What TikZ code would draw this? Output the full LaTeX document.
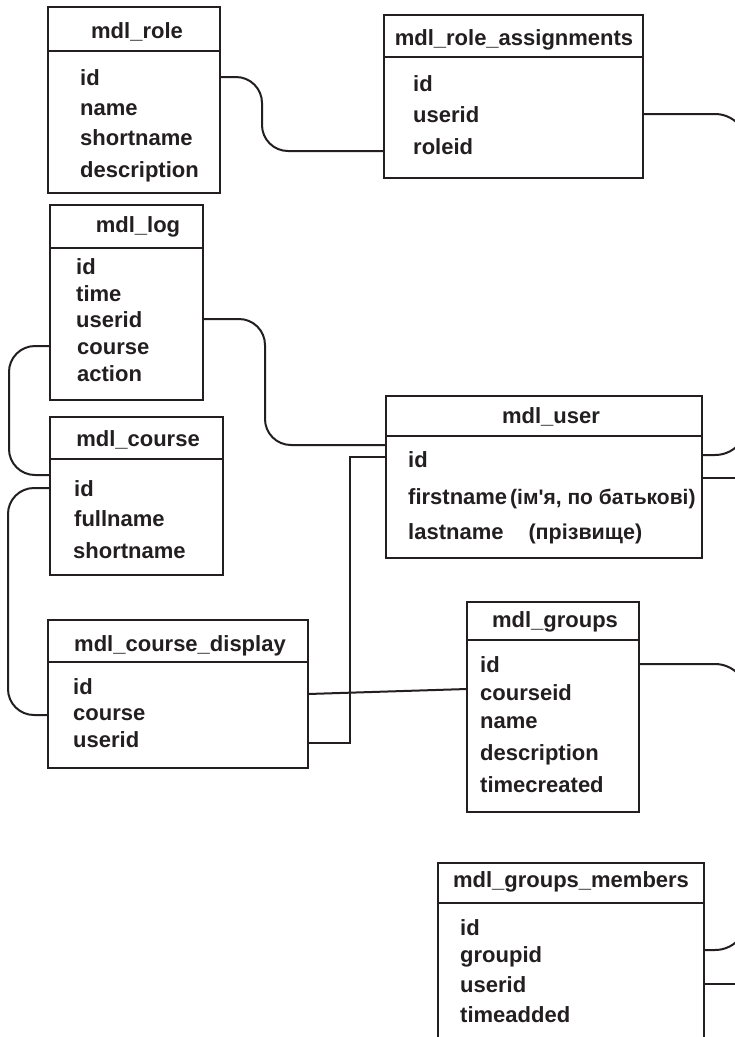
\documentclass[tikz,border=0pt]{standalone}
\usepackage{fontspec}
\newfontfamily\dbfont{Liberation Sans}
\usetikzlibrary{calc}
\definecolor{ink}{RGB}{35,31,32}
\tikzset{
  tbl/.style={draw=ink, line width=2.3pt, inner sep=0pt, outer sep=0pt, anchor=north west},
  ttl/.style={text=ink, font=\dbfont\bfseries\fontsize{22}{26}\selectfont, anchor=base, inner sep=0pt},
  fld/.style={text=ink, font=\dbfont\bfseries\fontsize{22}{26}\selectfont, anchor=base west, inner sep=0pt, text height=16pt, text depth=0pt},
  link/.style={draw=ink, line width=2pt},
  curvedlink/.style={link, rounded corners=26pt},
  widelink/.style={link, rounded corners=32pt},
}
\newcommand{\note}[2][21.5]{{\fontsize{#1}{25}\selectfont #2}}
\begin{document}
\begin{tikzpicture}[x=1pt, y=-1pt]
\useasboundingbox (0,0) rectangle (735,1037);
\fill[white] (0,0) rectangle (735,1037);
\clip (0,0) rectangle (735,1037);

% mdl_role
\node[tbl, minimum width=172pt, minimum height=44pt] (role-head) at (48,7) {};
\node[tbl, minimum width=172pt, minimum height=142pt] (role) at (role-head.south west) {};
\node[ttl] (role-title) at (137,38) {mdl\_role};
\node[fld] (role-id) at (80,85) {id};
\node[fld] (role-name) at (80,115) {name};
\node[fld] (role-short) at (80,145) {shortname};
\node[fld] (role-desc) at (80,177) {description};

% mdl_role_assignments
\node[tbl, minimum width=259pt, minimum height=42pt] (ra-head) at (384,15) {};
\node[tbl, minimum width=259pt, minimum height=121pt] (ra) at (ra-head.south west) {};
\node[ttl] (ra-title) at (514,45) {mdl\_role\_assignments};
\node[fld] (ra-id) at (413,91) {id};
\node[fld] (ra-userid) at (413,122) {userid};
\node[fld] (ra-roleid) at (413,154) {roleid};

% mdl_log
\node[tbl, minimum width=153pt, minimum height=43pt] (log-head) at (50,205) {};
\node[tbl, minimum width=153pt, minimum height=152pt] (log) at (log-head.south west) {};
\node[ttl] (log-title) at (138,232) {mdl\_log};
\node[fld] (log-id) at (76,274) {id};
\node[fld] (log-time) at (76,301) {time};
\node[fld] (log-userid) at (76,327) {userid};
\node[fld] (log-course) at (77,354) {course};
\node[fld] (log-action) at (77,381) {action};

% mdl_course
\node[tbl, minimum width=173pt, minimum height=42pt] (course-head) at (50,417) {};
\node[tbl, minimum width=173pt, minimum height=116pt] (course) at (course-head.south west) {};
\node[ttl] (course-title) at (138,446) {mdl\_course};
\node[fld] (course-id) at (74,496) {id};
\node[fld] (course-full) at (74,526) {fullname};
\node[fld] (course-short) at (73,558) {shortname};

% mdl_user
\node[tbl, minimum width=316pt, minimum height=40pt] (user-head) at (386,396) {};
\node[tbl, minimum width=316pt, minimum height=122pt] (user) at (user-head.south west) {};
\node[ttl] (user-title) at (551,423) {mdl\_user};
\node[fld] (user-id) at (408,467) {id};
\node[fld] (user-firstname) at (408,504) {firstname\hspace{3pt}\note[21]{(ім'я, по батькові)}};
\node[fld] (user-lastname) at (408,539) {lastname\hspace{25pt}\note{(прізвище)}};
\coordinate (user-mid) at ($(user-id)!0.5!(user-firstname)$);

% mdl_course_display
\node[tbl, minimum width=260pt, minimum height=42pt] (cd-head) at (48,620) {};
\node[tbl, minimum width=260pt, minimum height=106pt] (cd) at (cd-head.south west) {};
\node[ttl] (cd-title) at (180,651) {mdl\_course\_display};
\node[fld] (cd-id) at (73,694) {id};
\node[fld] (cd-course) at (73,720) {course};
\node[fld] (cd-userid) at (73,747) {userid};

% mdl_groups
\node[tbl, minimum width=172pt, minimum height=38pt] (groups-head) at (467,602) {};
\node[tbl, minimum width=172pt, minimum height=172pt] (groups) at (groups-head.south west) {};
\node[ttl] (groups-title) at (555,627) {mdl\_groups};
\node[fld] (groups-id) at (480,672) {id};
\node[fld] (groups-courseid) at (480,700) {courseid};
\node[fld] (groups-name) at (480,728) {name};
\node[fld] (groups-desc) at (480,760) {description};
\node[fld] (groups-time) at (480,792) {timecreated};

% mdl_groups_members
\node[tbl, minimum width=266pt, minimum height=40pt] (members-head) at (438,863) {};
\node[tbl, minimum width=266pt, minimum height=200pt] (members) at (members-head.south west) {};
\node[ttl] (members-title) at (571,887) {mdl\_groups\_members};
\node[fld] (members-id) at (460,935) {id};
\node[fld] (members-groupid) at (460,962) {groupid};
\node[fld] (members-userid) at (460,992) {userid};
\node[fld] (members-time) at (460,1022) {timeadded};

% relations
\draw[curvedlink] (role.east |- role-id) -- ++(42,0) |- ($(ra.west |- ra-roleid)+(0,5)$);
\draw[widelink] (ra.east |- ra-userid) -- ++(104,0) |- ($(user.east |- user-id)+(0,-4)$);
\draw[curvedlink] (log.east |- log-userid) -- ++(62,0) |- ($(user.north west)+(0,9)$);
\draw[curvedlink] (log.west |- log-course) -- ++(-41,0) |- ($(course.north west)+(0,16)$);
\draw[curvedlink] (course.west |- course-id) -- ++(-42,0) |- ($(cd.west |- cd-course)+(0,3)$);
\draw[link] ($(cd.east |- cd-id)+(0,8)$) -- ($(groups.west |- groups-courseid)+(0,-3)$);
\draw[link] ($(cd.east |- cd-userid)+(0,4)$) -- ++(42,0) |- ($(user.west |- user-id)+(0,-2)$);
\draw[widelink] (groups.east |- groups-id) -- ++(108,0) |- ($(members.east |- members-groupid)+(0,-4)$);
\draw[link] (user.east |- user-mid) -- ++(63,0) |- (members.east |- members-userid);
\end{tikzpicture}
\end{document}
